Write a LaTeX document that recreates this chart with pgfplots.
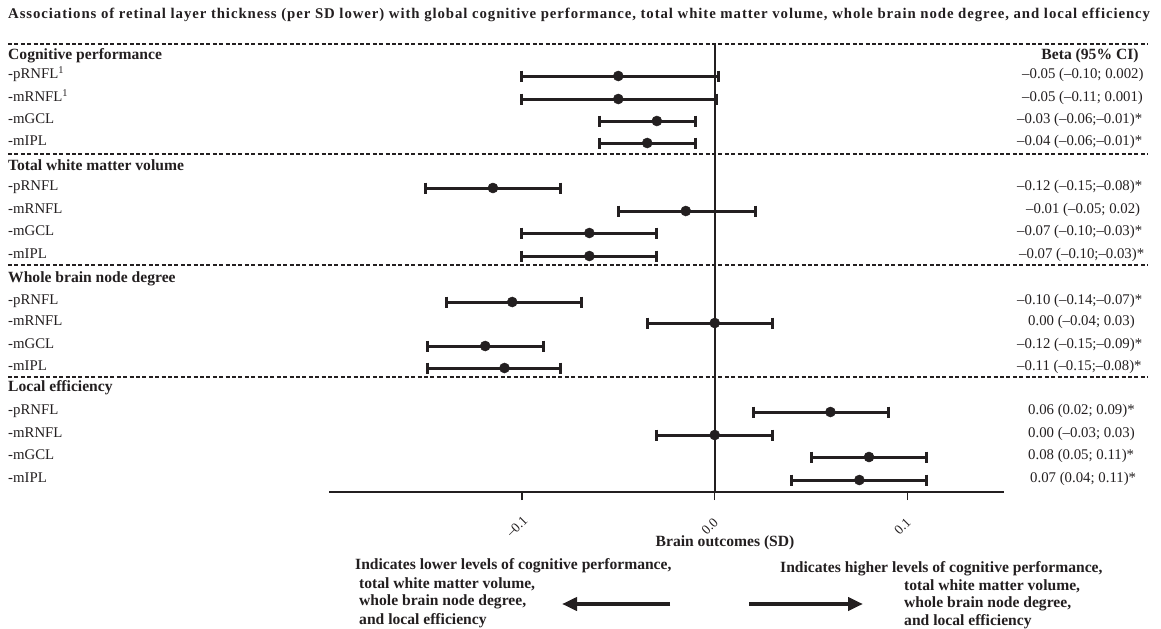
\documentclass[border=0pt]{standalone}
\usepackage{fontspec}
\setmainfont{Liberation Serif}
\newfontfamily\titlefont[LetterSpace=6.2]{Liberation Serif}
\usepackage{pgfplots}
\pgfplotsset{compat=1.18}
\usepackage{pgfplotstable}
\usetikzlibrary{arrows.meta}
\definecolor{ink}{RGB}{35,31,32}

% point estimates: y = row position (layout), b = beta
\pgfplotstableread{
y   b
76  -0.050
99  -0.050
121 -0.030
143 -0.035
188 -0.115
211 -0.015
233 -0.065
256 -0.065
302 -0.105
323  0.000
346 -0.119
368 -0.109
412  0.060
435  0.000
457  0.080
480  0.075
}\betatab

% 95% CI ends as drawn (lower, upper), one segment per row
\pgfplotstableread{
x      y
-0.100 76
 0.002 76
nan    nan
-0.100 99
 0.001 99
nan    nan
-0.060 121
-0.010 121
nan    nan
-0.060 143
-0.010 143
nan    nan
-0.150 188
-0.080 188
nan    nan
-0.050 211
 0.021 211
nan    nan
-0.100 233
-0.030 233
nan    nan
-0.100 256
-0.030 256
nan    nan
-0.139 302
-0.069 302
nan    nan
-0.035 323
 0.030 323
nan    nan
-0.149 346
-0.089 346
nan    nan
-0.149 368
-0.080 368
nan    nan
 0.020 412
 0.090 412
nan    nan
-0.030 435
 0.030 435
nan    nan
 0.050 457
 0.110 457
nan    nan
 0.040 480
 0.110 480
}\citab

\newcommand{\rg}{\fontsize{14.8bp}{17bp}\selectfont}
\newcommand{\bd}{\fontsize{15.6bp}{17bp}\selectfont\bfseries}

\begin{document}
\begin{tikzpicture}[x=1bp,y=1bp]
\useasboundingbox (0,0) rectangle (1161,-629);
\foreach \yy in {44,154,265,377}
  \draw[ink, line width=1.1bp, dash pattern=on 4bp off 2.4bp] (8,-\yy) -- (1148,-\yy);

\begin{axis}[
  at={(329bp,-492bp)}, anchor=south west,
  scale only axis, width=675bp, height=448bp,
  xmin=-0.2, xmax=0.15, ymin=44, ymax=492, y dir=reverse,
  clip=false, hide y axis, axis x line*=bottom,
  x axis line style={-, line width=1.5bp, ink},
  xtick={-0.1,0,0.1}, xticklabels={–0.1,0.0,0.1},
  tick align=outside, major tick length=8bp,
  xtick style={ink, line width=1.5bp},
  xticklabel style={rotate=45, anchor=center, text=ink,
    font=\fontsize{13.5bp}{15bp}\selectfont, xshift=-22.3bp, yshift=-15.2bp},
  ytick=\empty,
]
\draw[ink, line width=1.6bp] (axis cs:0,44) -- (axis cs:0,492);
\addplot[draw=ink, unbounded coords=jump, mark=|, mark size=5.5bp,
  every axis plot post/.append style={line width=3bp},
  mark options={line width=3bp, draw=ink}, line width=3bp] table[x=x, y=y] {\citab};
\addplot[ink, only marks, mark=*, mark size=5bp,
  mark options={fill=ink, draw=ink, line width=0.5bp}] table[x=b, y=y] {\betatab};
\end{axis}

% title
\node[anchor=mid west, inner sep=0, text=ink] at (8,-16) {\titlefont\fontsize{14.8bp}{16bp}\selectfont\bfseries Associations of retinal layer thickness (per SD lower) with global cognitive performance, total white matter volume, whole brain node degree, and local efficiency};

\begin{scope}[every node/.style={anchor=mid west, inner sep=0, text=ink}]
\node at (8,-57) {\bd Cognitive performance};
\node at (8,-76) {\rg -pRNFL\textsuperscript{1}};
\node at (8,-99) {\rg -mRNFL\textsuperscript{1}};
\node at (8,-121) {\rg -mGCL};
\node at (8,-143) {\rg -mIPL};
\node at (8,-168) {\bd Total white matter volume};
\node at (8,-188) {\rg -pRNFL};
\node at (8,-211) {\rg -mRNFL};
\node at (8,-233) {\rg -mGCL};
\node at (8,-256) {\rg -mIPL};
\node at (8,-280) {\bd Whole brain node degree};
\node at (8,-302) {\rg -pRNFL};
\node at (8,-323) {\rg -mRNFL};
\node at (8,-346) {\rg -mGCL};
\node at (8,-368) {\rg -mIPL};
\node at (8,-389) {\bd Local efficiency};
\node at (8,-412) {\rg -pRNFL};
\node at (8,-435) {\rg -mRNFL};
\node at (8,-457) {\rg -mGCL};
\node at (8,-480) {\rg -mIPL};
% right column
\node[anchor=mid] at (1090,-57) {\bd Beta (95\% CI)};
\node at (1022,-76) {\rg –0.05 (–0.10; 0.002)};
\node at (1022,-99) {\rg –0.05 (–0.11; 0.001)};
\node at (1017,-121) {\rg –0.03 (–0.06;–0.01)*};
\node at (1017,-143) {\rg –0.04 (–0.06;–0.01)*};
\node at (1017,-188) {\rg –0.12 (–0.15;–0.08)*};
\node at (1026,-211) {\rg –0.01 (–0.05; 0.02)};
\node at (1017,-233) {\rg –0.07 (–0.10;–0.03)*};
\node at (1019,-256) {\rg –0.07 (–0.10;–0.03)*};
\node at (1017,-302) {\rg –0.10 (–0.14;–0.07)*};
\node at (1028,-323) {\rg 0.00 (–0.04; 0.03)};
\node at (1017,-346) {\rg –0.12 (–0.15;–0.09)*};
\node at (1017,-368) {\rg –0.11 (–0.15;–0.08)*};
\node at (1028,-412) {\rg 0.06 (0.02; 0.09)*};
\node at (1028,-435) {\rg 0.00 (–0.03; 0.03)};
\node at (1028,-457) {\rg 0.08 (0.05; 0.11)*};
\node at (1030,-480) {\rg 0.07 (0.04; 0.11)*};
% bottom
\node[anchor=mid] at (725,-544) {\bd Brain outcomes (SD)};
\node at (355,-567) {\bd Indicates lower levels of cognitive performance,};
\node at (359,-586) {\bd total white matter volume,};
\node at (359,-603) {\bd whole brain node degree,};
\node at (359,-622) {\bd and local efficiency};
\node at (780,-570) {\bd Indicates higher levels of cognitive performance,};
\node at (904,-588) {\bd total white matter volume,};
\node at (904,-605) {\bd whole brain node degree,};
\node at (904,-623) {\bd and local efficiency};
\end{scope}
\draw[ink, line width=4bp, -{Triangle[length=15bp,width=13bp]}] (670,-604) -- (562,-604);
\draw[ink, line width=4bp, -{Triangle[length=15bp,width=13bp]}] (749,-604) -- (863,-604);
\end{tikzpicture}
\end{document}
